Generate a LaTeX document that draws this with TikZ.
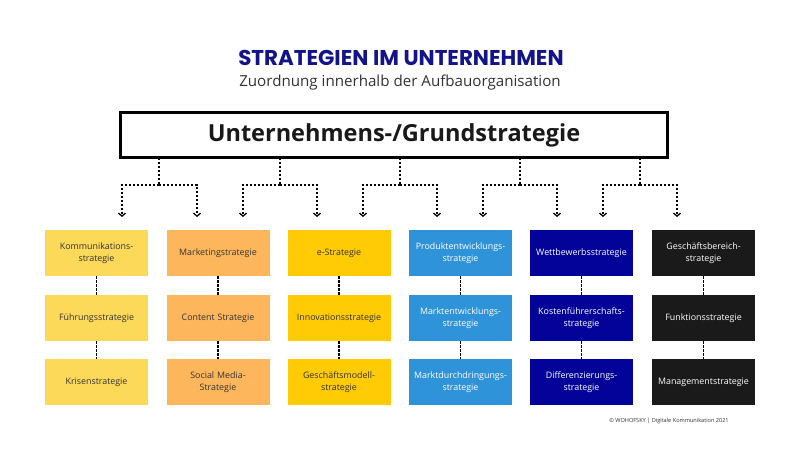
\documentclass[tikz,border=0pt]{standalone}
\usepackage{fontspec}
\setmainfont{Open Sans}
\newfontfamily\titlefont{Poppins}
\usetikzlibrary{arrows.meta}
\definecolor{ttl}{HTML}{13138C}
\definecolor{subc}{HTML}{333333}
\definecolor{cA}{HTML}{FDD95A}
\definecolor{cB}{HTML}{FDB65C}
\definecolor{cC}{HTML}{FFCB05}
\definecolor{cD}{HTML}{2F93DA}
\definecolor{cE}{HTML}{03039A}
\definecolor{cF}{HTML}{1A1A1A}
\definecolor{txd}{HTML}{333333}
\tikzset{
  sbox/.style={minimum width=103bp, minimum height=46bp, inner sep=0pt, align=center,
    text width=100bp, font=\fontsize{8.9}{12.5}\selectfont},
  lbox/.style={sbox, fill=#1, text=txd},
  dbox/.style={sbox, fill=#1, text=white},
  dl/.style={line width=1.9bp, dash pattern=on 2.4bp off 1.6bp, black},
  dla/.style={dl, -{Straight Barb[length=3bp,width=7bp,line width=1.3bp]}},
}
\begin{document}
\begin{tikzpicture}[x=1bp,y=-1bp]
\useasboundingbox[fill=white] (0,0) rectangle (800,450);
\node[text=ttl, font=\titlefont\bfseries\fontsize{21.5}{25}\selectfont] (title) at (401,58) {STRATEGIEN IM UNTERNEHMEN};
\node[text=subc, font=\fontsize{15.2}{18}\selectfont] (sub) at (400,83) {Zuordnung innerhalb der Aufbauorganisation};
\node[draw=black, line width=3bp, fill=white, minimum width=547bp, minimum height=45bp, inner sep=0pt,
  font=\bfseries\fontsize{23.6}{28}\selectfont, text=black!90] (main) at (394,135) {Unternehmens-/Grundstrategie};

\node[lbox=cA] (a1) at (96.5,253) {Kommunikations-\\strategie};
\node[lbox=cA] (a2) at (96.5,318) {Führungsstrategie};
\node[lbox=cA] (a3) at (96.5,382) {Krisenstrategie};
\node[lbox=cB] (b1) at (218,253) {Marketingstrategie};
\node[lbox=cB] (b2) at (218,318) {Content Strategie};
\node[lbox=cB] (b3) at (218,382) {Social Media-\\Strategie};
\node[lbox=cC] (c1) at (339,253) {e-Strategie};
\node[lbox=cC] (c2) at (339,318) {Innovationsstrategie};
\node[lbox=cC] (c3) at (339,382) {Geschäftsmodell-\\strategie};
\node[dbox=cD] (d1) at (460.5,253) {Produktentwicklungs-\\strategie};
\node[dbox=cD] (d2) at (460.5,318) {Marktentwicklungs-\\strategie};
\node[dbox=cD] (d3) at (460.5,382) {Marktdurchdringungs-\\strategie};
\node[dbox=cE] (e1) at (581.5,253) {Wettbewerbsstrategie};
\node[dbox=cE] (e2) at (581.5,318) {Kostenführerschafts-\\strategie};
\node[dbox=cE] (e3) at (581.5,382) {Differenzierungs-\\strategie};
\node[dbox=cF] (f1) at (703.5,253) {Geschäftsbereich-\\strategie};
\node[dbox=cF] (f2) at (703.5,318) {Funktionsstrategie};
\node[dbox=cF] (f3) at (703.5,382) {Managementstrategie};

\foreach \n in {a,b,c,d,e,f}{
  \draw[dl] (\n1.south) -- (\n2.north);
  \draw[dl] (\n2.south) -- (\n3.north);
}

% branches from main box
\foreach \i/\bx/\l/\r in {1/159/122/197, 2/280/243/317, 3/400/363/437, 4/520/483/557, 5/640/603/677}{
  \coordinate (s\i) at (\bx,158);
  \coordinate (h\i) at (\bx,185);
  \coordinate (tl\i) at (\l,217);
  \coordinate (tr\i) at (\r,217);
  \draw[dl] (s\i) -- (h\i);
  \draw[dla] (h\i) -| (tl\i);
  \draw[dla] (h\i) -| (tr\i);
}

\node[text=txd, font=\fontsize{5.6}{7}\selectfont] (copy) at (669,421) {© WOHOFSKY | Digitale Kommunikation 2021};
\end{tikzpicture}
\end{document}
